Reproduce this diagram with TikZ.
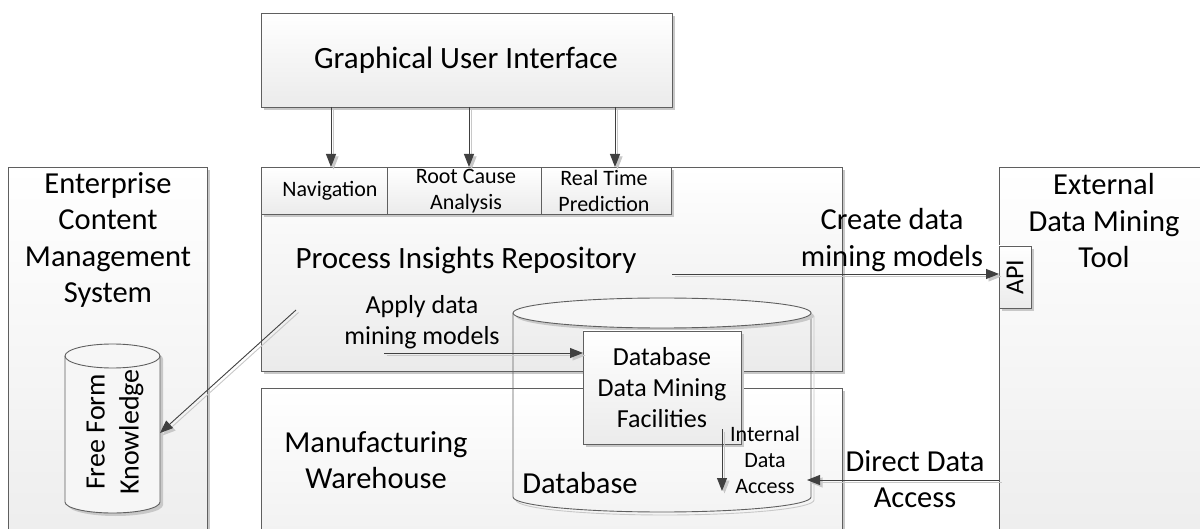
\documentclass[tikz,border=0pt]{standalone}
\usepackage{fontspec}
\setmainfont{Carlito}
\usetikzlibrary{arrows.meta,shadows}
\definecolor{edge}{HTML}{5F5F5F}
\definecolor{wirecol}{HTML}{404040}
\definecolor{shadowgray}{HTML}{C8C8C8}
\definecolor{panelbot}{HTML}{EBEBEB}
\definecolor{lidfill}{HTML}{F6F6F6}
\tikzset{
  panel/.style={draw=edge, line width=0.9pt, top color=white, bottom color=panelbot,
    drop shadow={shadow xshift=3pt, shadow yshift=-3pt, fill=shadowgray, opacity=1},
    anchor=north west, inner sep=0pt, outer sep=0pt},
  label/.style={align=center, inner sep=0pt, text=black},
  big/.style={label, font=\fontsize{30.5}{36.5}\selectfont},
  mid/.style={label, font=\fontsize{26}{31}\selectfont},
  small/.style={label, font=\fontsize{22}{26}\selectfont},
  wire/.style={draw=wirecol, line width=0.9pt, -{Triangle[length=13pt,width=10pt]},
    preaction={draw=shadowgray, line width=0.9pt, -{Triangle[length=13pt,width=10pt]},
      transform canvas={shift={(2.5pt,-2.5pt)}}}},
}
\begin{document}
\begin{tikzpicture}[x=1pt,y=-1pt]
\useasboundingbox (0,0) rectangle (1200,529);
\fill[white] (0,0) rectangle (1200,529);

% outer systems
\node[panel, minimum width=199pt, minimum height=420pt] (ecms) at (8,167) {};
\node[panel, minimum width=210pt, minimum height=420pt] (edmt) at (999,167) {};
\node[panel, minimum width=581pt, minimum height=204pt] (pir) at (261,167) {};
\node[panel, minimum width=581pt, minimum height=220pt] (mw) at (261,388) {};
\node[panel, minimum width=411pt, minimum height=94pt] (gui) at (261,13) {};

% tabs on top of the repository
\node[panel, minimum width=126pt, minimum height=47pt] (tabnav) at (261,167) {};
\node[panel, minimum width=154pt, minimum height=47pt] (tabrca) at (387,167) {};
\node[panel, minimum width=130pt, minimum height=47pt] (tabrtp) at (541,167) {};

% API port of the external tool
\node[panel, minimum width=32pt, minimum height=62pt] (api) at (999,246) {};

% free form knowledge store
\fill[shadowgray] (68,359) arc[start angle=180, end angle=0, x radius=47.5pt, y radius=12pt]
  -- (163,505) arc[start angle=360, end angle=180, x radius=47.5pt, y radius=11pt] -- cycle;
\fill[lidfill] (65,356) arc[start angle=180, end angle=0, x radius=47.5pt, y radius=12pt]
  -- (160,502) arc[start angle=360, end angle=180, x radius=47.5pt, y radius=11pt] -- cycle;
\draw[edge, line width=0.9pt] (65,356) arc[start angle=180, end angle=0, x radius=47.5pt, y radius=12pt]
  -- (160,502) arc[start angle=360, end angle=180, x radius=47.5pt, y radius=11pt] -- cycle;
\draw[edge, line width=0.9pt] (65,356) arc[start angle=180, end angle=360, x radius=47.5pt, y radius=12pt];

% database cylinder (body left open)
\draw[shadowgray, line width=0.9pt] (814,316) -- (814,500) arc[start angle=0, end angle=-180, x radius=149pt, y radius=15pt];
\draw[edge, line width=0.9pt] (513,313) -- (513,497)
  arc[start angle=180, end angle=360, x radius=149pt, y radius=15pt] -- (811,313);
\fill[shadowgray] (665,316) ellipse[x radius=149pt, y radius=15pt];
\draw[edge, line width=0.9pt, fill=lidfill] (662,313) ellipse[x radius=149pt, y radius=15pt];

\node[panel, minimum width=158pt, minimum height=113pt] (dbdmf) at (583,331) {};

% texts
\node[big, font=\fontsize{31}{37}\selectfont] (guitext) at (466,60) {Graphical User Interface};
\node[small] (navtext) at (330,191) {Navigation};
\node[small] (rcatext) at (466,191) {Root Cause\\Analysis};
\node[small] (rtptext) at (604,191) {Real Time\\Prediction};
\node[big, font=\fontsize{31}{37}\selectfont] (pirtext) at (466,260) {Process Insights Repository};
\node[big] (ecmstext) at (108,240) {Enterprise\\Content\\Management\\System};
\node[big] (edmttext) at (1104,221) {External\\Data Mining\\Tool};
\node[label, font=\fontsize{26}{31}\selectfont, rotate=90] (apitext) at (1015,277) {API};
\node[big] (createtext) at (892,240) {Create data\\mining models};
\node[mid] (applytext) at (422,322) {Apply data\\mining models};
\node[mid] (dbdmftext) at (662,388) {Database\\Data Mining\\Facilities};
\node[big] (mwtext) at (376,460) {Manufacturing\\Warehouse};
\node[big] (dbtext) at (580,483) {Database};
\node[small] (idatext) at (765,460) {Internal\\Data\\Access};
\node[big] (ddatext) at (915,479) {Direct Data\\Access};
\node[label, font=\fontsize{28}{34}\selectfont, rotate=90] (ffktext) at (115,432) {Free Form\\Knowledge};

% connector end points
\coordinate (guiA) at (331,107);  \coordinate (navIn) at (331,167);
\coordinate (guiB) at (469,107);  \coordinate (rcaIn) at (469,167);
\coordinate (guiC) at (615,107);  \coordinate (rtpIn) at (615,167);
\coordinate (pirOut) at (672,274); \coordinate (apiIn) at (999,274);
\coordinate (applyOut) at (384,353); \coordinate (dbdmfIn) at (583,353);
\coordinate (pirLink) at (296,310); \coordinate (ffkIn) at (160,433);
\coordinate (dbdmfOut) at (722,429); \coordinate (dbIn) at (722,491);
\coordinate (edmtOut) at (999,480); \coordinate (dbSide) at (807,480);

% connectors
\draw[wire] (guiA) -- (navIn);
\draw[wire] (guiB) -- (rcaIn);
\draw[wire] (guiC) -- (rtpIn);
\draw[wire] (pirOut) -- (apiIn);
\draw[wire] (applyOut) -- (dbdmfIn);
\draw[wire] (pirLink) -- (ffkIn);
\draw[wire] (dbdmfOut) -- (dbIn);
\draw[wire] (edmtOut) -- (dbSide);
\end{tikzpicture}
\end{document}
